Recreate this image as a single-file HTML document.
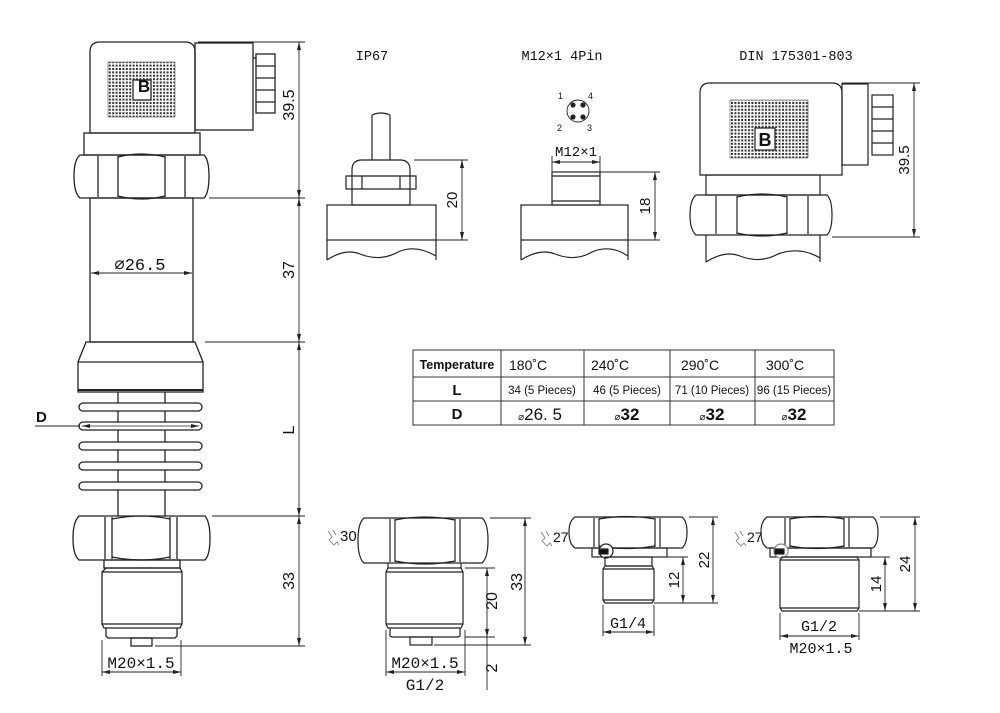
<!DOCTYPE html>
<html><head><meta charset="utf-8"><style>
html,body{margin:0;padding:0;background:#fff}
svg{display:block}
text{font-family:"Liberation Sans",sans-serif;fill:#111}
.m{font-family:"Liberation Mono","DejaVu Sans Mono",monospace}
</style></head><body>
<svg width="1000" height="713" viewBox="0 0 1000 713" xmlns="http://www.w3.org/2000/svg">
<defs>
<pattern id="g" width="3.4" height="3.4" patternUnits="userSpaceOnUse">
<rect width="3.4" height="3.4" fill="#fff"/><rect width="2" height="2" fill="#333"/>
</pattern>
<marker id="a" markerWidth="8" markerHeight="6" refX="8" refY="3" orient="auto-start-reverse" markerUnits="userSpaceOnUse"><path d="M0,1 L8,3 L0,5z" fill="#222"/></marker>
</defs>
<g fill="none" stroke="#222" stroke-width="1.3">
<!-- ===== MAIN SENSOR ===== -->
<path d="M90,133 V52 Q90,42 100,42 H185 Q195,42 195,52 V133 Z" fill="#fff"/>
<rect x="108" y="62" width="67" height="55" fill="url(#g)" stroke="#555" stroke-width="0.6"/>
<rect x="133" y="80" width="18" height="20" fill="#fff"/>
<rect x="195" y="43" width="58" height="87"/>
<rect x="256" y="54" width="19" height="59"/>
<line x1="256" y1="66" x2="275" y2="66"/><line x1="256" y1="78" x2="275" y2="78"/><line x1="256" y1="90" x2="275" y2="90"/><line x1="256" y1="102" x2="275" y2="102"/>
<line x1="253" y1="58" x2="256" y2="58"/>
<rect x="84" y="133" width="116" height="22"/>
<path d="M80,155 H204 Q209,160 209,176 Q209,193 204,198 H80 Q74,193 74,176 Q74,160 80,155 Z"/>
<line x1="98" y1="156" x2="98" y2="197"/><line x1="118" y1="156" x2="118" y2="197"/>
<line x1="165" y1="156" x2="165" y2="197"/><line x1="185" y1="156" x2="185" y2="197"/>
<path d="M118,157 Q141,151 165,157 M118,196 Q141,202 165,196"/>
<rect x="90" y="198" width="103" height="144"/>
<path d="M86,342 H195 L203,362 V392 H78 V362 Z"/>
<line x1="78" y1="362" x2="203" y2="362"/>
<line x1="78" y1="390" x2="203" y2="390" stroke-width="2"/>
<line x1="118" y1="392" x2="118" y2="516"/><line x1="165" y1="392" x2="165" y2="516"/>
<rect x="79" y="403" width="123" height="8" rx="4" fill="#fff"/>
<rect x="79" y="422" width="123" height="8" rx="4" fill="#fff"/>
<rect x="79" y="442" width="123" height="8" rx="4" fill="#fff"/>
<rect x="79" y="462" width="123" height="8" rx="4" fill="#fff"/>
<rect x="79" y="482" width="123" height="8" rx="4" fill="#fff"/>
<line x1="35" y1="426" x2="80" y2="426" stroke-width="1"/>
<line x1="82" y1="426" x2="199" y2="426" stroke-width="0.8" marker-start="url(#a)" marker-end="url(#a)"/>
<path d="M79,516 H205 Q210,522 210,538 Q210,555 205,560 H79 Q73,555 73,538 Q73,522 79,516 Z"/>
<line x1="105" y1="517" x2="105" y2="559"/><line x1="112" y1="517" x2="112" y2="559"/>
<line x1="170" y1="517" x2="170" y2="559"/><line x1="177" y1="517" x2="177" y2="559"/>
<path d="M112,519 Q141,513 170,519 M112,557 Q141,563 170,557"/>
<rect x="104" y="560" width="76" height="8"/>
<path d="M106,568 H180 L182,572 V624 L180,628 H104 L102,624 V572 Z"/>
<line x1="102" y1="572" x2="182" y2="572"/><line x1="102" y1="624" x2="182" y2="624"/>
<path d="M106,628 V636 L108,638 H175 L177,636 V628"/>
<rect x="131" y="638" width="21" height="8"/>
<!-- main dims -->
<g stroke-width="0.9">
<line x1="198" y1="42" x2="305" y2="42"/><line x1="209" y1="198" x2="305" y2="198"/>
<line x1="205" y1="342" x2="305" y2="342"/><line x1="212" y1="516" x2="305" y2="516"/>
<line x1="155" y1="646" x2="305" y2="646"/>
<line x1="299" y1="42" x2="299" y2="198" marker-start="url(#a)" marker-end="url(#a)"/>
<line x1="299" y1="198" x2="299" y2="342" marker-start="url(#a)" marker-end="url(#a)"/>
<line x1="299" y1="342" x2="299" y2="516" marker-start="url(#a)" marker-end="url(#a)"/>
<line x1="299" y1="516" x2="299" y2="646" marker-start="url(#a)" marker-end="url(#a)"/>
<line x1="91" y1="273" x2="192" y2="273" marker-start="url(#a)" marker-end="url(#a)"/>
<line x1="102" y1="640" x2="102" y2="676"/><line x1="181" y1="640" x2="181" y2="676"/>
<line x1="102" y1="672" x2="181" y2="672" marker-start="url(#a)" marker-end="url(#a)"/>
</g>
</g>
<text x="144" y="92" font-size="17" font-weight="bold" text-anchor="middle">B</text>
<text x="140" y="270" font-size="17" text-anchor="middle" class="m">⌀26.5</text>
<text font-size="16" transform="translate(294,105) rotate(-90)" text-anchor="middle">39.5</text>
<text font-size="16" transform="translate(294,270) rotate(-90)" text-anchor="middle">37</text>
<text font-size="16" transform="translate(294,430) rotate(-90)" text-anchor="middle">L</text>
<text font-size="16" transform="translate(294,581) rotate(-90)" text-anchor="middle">33</text>
<text x="36" y="422" font-size="15" font-weight="bold">D</text>
<text x="141" y="668" font-size="16" text-anchor="middle" class="m">M20×1.5</text>

<!-- ===== TOP TITLES ===== -->
<text x="372" y="60" font-size="13.5" text-anchor="middle" class="m">IP67</text>
<text x="562" y="60" font-size="13.5" text-anchor="middle" class="m">M12×1 4Pin</text>
<text x="796" y="60" font-size="13.5" text-anchor="middle" class="m">DIN 175301-803</text>

<g fill="none" stroke="#222" stroke-width="1.2">
<!-- IP67 -->
<path d="M372,115 L372,160 M390,115 L390,160 M372,115 Q381,111 390,115"/>
<path d="M352,170 Q352,160 362,160 H400 Q410,160 410,170 V205 H352 Z"/>
<path d="M346,176 H416 V189 H346 Z"/><line x1="362" y1="176" x2="362" y2="189"/><line x1="400" y1="176" x2="400" y2="189"/>
<rect x="327" y="205" width="109" height="35"/>
<line x1="327" y1="240" x2="327" y2="260"/><line x1="436" y1="240" x2="436" y2="260"/>
<path d="M327,260 Q345,248 360,254 Q380,262 398,252 Q415,244 436,256"/>
<!-- M12 -->
<circle cx="578" cy="111" r="11" stroke-width="0.9"/>
<circle cx="573" cy="105" r="2" fill="#222"/><circle cx="583" cy="105" r="2" fill="#222"/>
<circle cx="573" cy="117" r="2" fill="#222"/><circle cx="583" cy="117" r="2" fill="#222"/>
<rect x="552" y="172" width="48" height="33"/>
<line x1="552" y1="176" x2="600" y2="176"/><line x1="552" y1="201" x2="600" y2="201"/>
<rect x="521" y="205" width="107" height="35"/>
<line x1="521" y1="240" x2="521" y2="260"/><line x1="628" y1="240" x2="628" y2="260"/>
<path d="M521,260 Q540,248 555,254 Q575,262 592,252 Q610,244 628,256"/>
<!-- DIN -->
<path d="M700,175 V93 Q700,83 710,83 H832 Q842,83 842,93 V175 Z"/>
<rect x="730" y="100" width="78" height="58" fill="url(#g)" stroke="#555" stroke-width="0.6"/>
<rect x="755" y="128" width="20" height="22" fill="#fff"/>
<rect x="842" y="84" width="26" height="81"/>
<rect x="872" y="95" width="21" height="60"/>
<line x1="872" y1="107" x2="893" y2="107"/><line x1="872" y1="119" x2="893" y2="119"/><line x1="872" y1="131" x2="893" y2="131"/><line x1="872" y1="143" x2="893" y2="143"/>
<rect x="706" y="175" width="114" height="20"/>
<path d="M696,195 H827 Q832,200 832,215 Q832,230 827,235 H696 Q690,230 690,215 Q690,200 696,195 Z"/>
<line x1="716" y1="196" x2="716" y2="234"/><line x1="737" y1="196" x2="737" y2="234"/>
<line x1="787" y1="196" x2="787" y2="234"/><line x1="808" y1="196" x2="808" y2="234"/>
<path d="M737,197 Q762,191 787,197 M737,233 Q762,239 787,233"/>
<line x1="706" y1="235" x2="706" y2="262"/><line x1="820" y1="235" x2="820" y2="262"/>
<path d="M706,262 Q725,250 740,256 Q760,264 778,254 Q800,246 820,258"/>
<g stroke-width="0.9">
<line x1="414" y1="160" x2="468" y2="160"/><line x1="436" y1="240" x2="468" y2="240"/>
<line x1="462" y1="160" x2="462" y2="240" marker-start="url(#a)" marker-end="url(#a)"/>
<line x1="600" y1="172" x2="660" y2="172"/><line x1="628" y1="240" x2="660" y2="240"/>
<line x1="655" y1="172" x2="655" y2="240" marker-start="url(#a)" marker-end="url(#a)"/>
<line x1="552" y1="156" x2="552" y2="172"/><line x1="600" y1="156" x2="600" y2="172"/>
<line x1="552" y1="162" x2="600" y2="162" marker-start="url(#a)" marker-end="url(#a)"/>
<line x1="842" y1="83" x2="920" y2="83"/><line x1="832" y1="237" x2="920" y2="237"/>
<line x1="914" y1="83" x2="914" y2="237" marker-start="url(#a)" marker-end="url(#a)"/>
</g>
</g>
<text x="765" y="146" font-size="18" font-weight="bold" text-anchor="middle">B</text>
<text font-size="15" transform="translate(457,200) rotate(-90)" text-anchor="middle">20</text>
<text font-size="15" transform="translate(650,206) rotate(-90)" text-anchor="middle">18</text>
<text font-size="15" transform="translate(909,160) rotate(-90)" text-anchor="middle">39.5</text>
<text x="576" y="156" font-size="14" text-anchor="middle" class="m">M12×1</text>
<g font-size="9"><text x="558" y="99">1</text><text x="588" y="99">4</text><text x="557" y="131">2</text><text x="587" y="131">3</text></g>

<!-- ===== TABLE ===== -->
<g fill="none" stroke="#333" stroke-width="1">
<rect x="413" y="350" width="421" height="75"/>
<line x1="413" y1="377" x2="834" y2="377"/><line x1="413" y1="401" x2="834" y2="401"/>
<line x1="501" y1="350" x2="501" y2="425"/><line x1="584" y1="350" x2="584" y2="425"/>
<line x1="670" y1="350" x2="670" y2="425"/><line x1="755" y1="350" x2="755" y2="425"/>
</g>
<g font-size="12">
<text x="457" y="369" text-anchor="middle" font-weight="bold" font-size="12.5">Temperature</text>
<text x="509" y="370" font-size="14">180˚C</text><text x="591" y="370" font-size="14">240˚C</text>
<text x="681" y="370" font-size="14">290˚C</text><text x="766" y="370" font-size="14">300˚C</text>
<text x="457" y="395" text-anchor="middle" font-weight="bold" font-size="15">L</text>
<text x="542" y="394" text-anchor="middle" font-size="11.5">34 (5 Pieces)</text>
<text x="627" y="394" text-anchor="middle" font-size="11.5">46 (5 Pieces)</text>
<text x="712" y="394" text-anchor="middle" font-size="11.5">71 (10 Pieces)</text>
<text x="794" y="394" text-anchor="middle" font-size="11.5">96 (15 Pieces)</text>
<text x="457" y="419" text-anchor="middle" font-weight="bold" font-size="15">D</text>
<text x="540" y="420" text-anchor="middle" font-size="17"><tspan font-size="10">⌀</tspan>26. 5</text>
<text x="627" y="420" text-anchor="middle" font-size="17" font-weight="bold"><tspan font-size="10" font-weight="normal">⌀</tspan>32</text>
<text x="712" y="420" text-anchor="middle" font-size="17" font-weight="bold"><tspan font-size="10" font-weight="normal">⌀</tspan>32</text>
<text x="794" y="420" text-anchor="middle" font-size="17" font-weight="bold"><tspan font-size="10" font-weight="normal">⌀</tspan>32</text>
</g>

<!-- ===== BOTTOM FITTINGS ===== -->
<g fill="none" stroke="#222" stroke-width="1.2">
<path d="M364,518 H482 Q488,523 488,540 Q488,558 482,563 H364 Q358,558 358,540 Q358,523 364,518 Z"/>
<line x1="390" y1="519" x2="390" y2="562"/><line x1="395" y1="519" x2="395" y2="562"/>
<line x1="455" y1="519" x2="455" y2="562"/><line x1="460" y1="519" x2="460" y2="562"/>
<path d="M395,520 Q425,514 455,520 M395,561 Q425,567 455,561"/>
<line x1="388" y1="563" x2="388" y2="568"/><line x1="461" y1="563" x2="461" y2="568"/>
<path d="M388,568 H461 L463,572 V624 L461,628 H388 L386,624 V572 Z"/>
<line x1="386" y1="572" x2="463" y2="572"/><line x1="386" y1="624" x2="463" y2="624"/>
<path d="M390,628 V636 L392,637 H458 L460,636 V628"/>
<rect x="410" y="637" width="22" height="8"/>
<path d="M575,517 H682 Q687,521 687,532 Q687,544 682,548 H575 Q569,544 569,532 Q569,521 575,517 Z"/>
<line x1="594" y1="518" x2="594" y2="547"/><line x1="599" y1="518" x2="599" y2="547"/>
<line x1="655" y1="518" x2="655" y2="547"/><line x1="660" y1="518" x2="660" y2="547"/>
<path d="M599,519 Q627,514 655,519 M599,546 Q627,551 655,546"/>
<rect x="592" y="548" width="75" height="9"/>
<circle cx="606" cy="551" r="7" fill="#fff"/><rect x="599" y="549" width="9" height="5" fill="#111"/>
<rect x="605" y="557" width="47" height="9"/>
<path d="M605,566 H652 L654,569 V600 L652,603 H605 L603,600 V569 Z"/>
<line x1="603" y1="569" x2="654" y2="569"/><line x1="603" y1="600" x2="654" y2="600"/>
<path d="M767,517 H873 Q878,521 878,532 Q878,544 873,548 H767 Q761,544 761,532 Q761,521 767,517 Z"/>
<line x1="785" y1="518" x2="785" y2="547"/><line x1="790" y1="518" x2="790" y2="547"/>
<line x1="844" y1="518" x2="844" y2="547"/><line x1="849" y1="518" x2="849" y2="547"/>
<path d="M790,519 Q817,514 844,519 M790,546 Q817,551 844,546"/>
<rect x="770" y="548" width="101" height="9"/>
<circle cx="781" cy="551" r="7" fill="#fff" stroke="#888"/><rect x="775" y="549" width="9" height="5" fill="#111"/>
<path d="M782,557 H857 L859,560 V608 L857,611 H782 L780,608 V560 Z"/>
<line x1="780" y1="560" x2="859" y2="560"/><line x1="780" y1="608" x2="859" y2="608"/>
<g stroke-width="0.9">
<line x1="490" y1="518" x2="531" y2="518"/><line x1="465" y1="568" x2="495" y2="568"/>
<line x1="465" y1="637" x2="495" y2="637"/><line x1="434" y1="645" x2="531" y2="645"/>
<line x1="525" y1="518" x2="525" y2="645" marker-start="url(#a)" marker-end="url(#a)"/>
<line x1="487" y1="568" x2="487" y2="637" marker-start="url(#a)" marker-end="url(#a)"/>
<line x1="487" y1="637" x2="487" y2="690"/>
<line x1="386" y1="630" x2="386" y2="676"/><line x1="465" y1="630" x2="465" y2="676"/>
<line x1="386" y1="672" x2="465" y2="672" marker-start="url(#a)" marker-end="url(#a)"/>
<line x1="689" y1="517" x2="718" y2="517"/><line x1="654" y1="557" x2="688" y2="557"/>
<line x1="654" y1="603" x2="718" y2="603"/>
<line x1="683" y1="557" x2="683" y2="603" marker-start="url(#a)" marker-end="url(#a)"/>
<line x1="713" y1="517" x2="713" y2="603" marker-start="url(#a)" marker-end="url(#a)"/>
<line x1="603" y1="605" x2="603" y2="636"/><line x1="654" y1="605" x2="654" y2="636"/>
<line x1="603" y1="632" x2="654" y2="632" marker-start="url(#a)" marker-end="url(#a)"/>
<line x1="880" y1="517" x2="920" y2="517"/><line x1="859" y1="557" x2="890" y2="557"/>
<line x1="859" y1="611" x2="920" y2="611"/>
<line x1="885" y1="557" x2="885" y2="611" marker-start="url(#a)" marker-end="url(#a)"/>
<line x1="915" y1="517" x2="915" y2="611" marker-start="url(#a)" marker-end="url(#a)"/>
<line x1="780" y1="613" x2="780" y2="640"/><line x1="859" y1="613" x2="859" y2="640"/>
<line x1="780" y1="636" x2="859" y2="636" marker-start="url(#a)" marker-end="url(#a)"/>
</g>
<g stroke-width="0.8" stroke="#777">
<path d="M328,531 l4,6 l-3,3 l5,5 l3,-3 l2,3 M333,530 l3,5"/>
<path d="M541,532 l4,6 l-3,3 l5,5 l3,-3 l2,3 M546,531 l3,5"/>
<path d="M735,532 l4,6 l-3,3 l5,5 l3,-3 l2,3 M740,531 l3,5"/>
</g>
</g>
<text x="340" y="541" font-size="15">30</text>
<text x="553" y="542" font-size="14">27</text>
<text x="747" y="542" font-size="14">27</text>
<text font-size="16" transform="translate(497,601) rotate(-90)" text-anchor="middle">20</text>
<text font-size="16" transform="translate(522,582) rotate(-90)" text-anchor="middle">33</text>
<text font-size="16" transform="translate(497,668) rotate(-90)" text-anchor="middle">2</text>
<text x="425" y="668" font-size="16" text-anchor="middle" class="m">M20×1.5</text>
<text x="425" y="690" font-size="16" text-anchor="middle" class="m">G1/2</text>
<text font-size="15" transform="translate(679,580) rotate(-90)" text-anchor="middle">12</text>
<text font-size="15" transform="translate(709,560) rotate(-90)" text-anchor="middle">22</text>
<text x="628" y="628" font-size="15" text-anchor="middle" class="m">G1/4</text>
<text font-size="15" transform="translate(881,584) rotate(-90)" text-anchor="middle">14</text>
<text font-size="15" transform="translate(910,564) rotate(-90)" text-anchor="middle">24</text>
<text x="819" y="631" font-size="15" text-anchor="middle" class="m">G1/2</text>
<text x="821" y="653" font-size="15" text-anchor="middle" class="m">M20×1.5</text>
</svg>
</body></html>
